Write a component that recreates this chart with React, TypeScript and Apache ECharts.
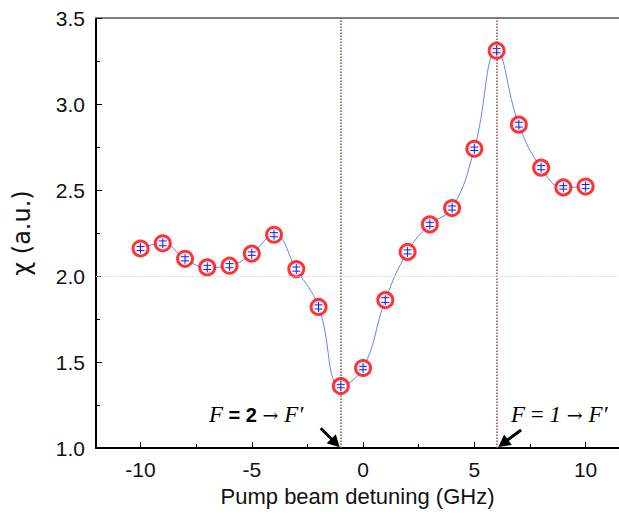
import React, { useEffect, useRef } from "react";
import * as echarts from "echarts";

const detuning = [-10, -9, -8, -7, -6, -5, -4, -3, -2, -1, 0, 1, 2, 3, 4, 5, 6, 7, 8, 9, 10];
const chi = [2.16, 2.19, 2.1, 2.05, 2.06, 2.13, 2.24, 2.04, 1.82, 1.36, 1.465, 1.86, 2.14, 2.3, 2.395, 2.74, 3.31, 2.88, 2.63, 2.515, 2.52];
const chiError = [0.012, 0.014, 0.012, 0.012, 0.012, 0.01, 0.012, 0.012, 0.012, 0.01, 0.01, 0.014, 0.012, 0.012, 0.012, 0.01, 0.012, 0.014, 0.012, 0.01, 0.012];
const xMajorTicks = [-10, -5, 0, 5, 10];
const xMinorTicks = [-7.5, -2.5, 2.5, 7.5];
const transitions = [-1, 6];
const referenceLevel = 2.0;
const arrowStartX = [-1.9, 7.1];
const arrowStartY = [1.115, 1.105];
const arrowEndX = [-1.05, 6.08];
const arrowEndY = [1.004, 1.006];

const X_MIN = -12;
const X_MAX = 11.5;

export default function App() {
  const ref = useRef<HTMLDivElement>(null);
  useEffect(() => {
    if (!ref.current) return;
    const chart = echarts.init(ref.current, undefined, { renderer: "svg" });
    const pts = detuning.map((x, i) => [x, chi[i]]);
    const errPts = detuning.map((x, i) => [x, chi[i], chiError[i]]);
    const arrows = arrowStartX.map((x, i) => [x, arrowStartY[i], arrowEndX[i], arrowEndY[i]]);
    const sans = "Liberation Sans, Arial, sans-serif";
    const serif = "Liberation Serif, Times New Roman, serif";
    chart.setOption({
      animation: false,
      backgroundColor: "#fff",
      grid: { left: 96, right: 0, top: 18, bottom: 69, containLabel: false },
      xAxis: [
        {
          type: "value",
          min: X_MIN,
          max: X_MAX,
          position: "bottom",
          axisLine: { onZero: false, lineStyle: { color: "#000", width: 2 } },
          axisTick: { inside: true, length: 6, customValues: xMajorTicks, lineStyle: { color: "#000", width: 1 } },
          axisLabel: { customValues: xMajorTicks, fontSize: 21, color: "#111", margin: 11, fontFamily: sans },
          splitLine: { show: false },
          name: "Pump beam detuning (GHz)",
          nameLocation: "middle",
          nameGap: 37,
          nameTextStyle: { fontSize: 22, color: "#111", fontFamily: sans },
        },
        {
          type: "value",
          min: X_MIN,
          max: X_MAX,
          position: "bottom",
          axisLine: { show: false, onZero: false },
          axisTick: { inside: true, length: 4, customValues: xMinorTicks, lineStyle: { color: "#000", width: 1 } },
          axisLabel: { show: false },
          splitLine: { show: false },
        },
        {
          type: "value",
          min: X_MIN,
          max: X_MAX,
          position: "top",
          axisLine: { onZero: false, lineStyle: { color: "#808080", width: 2 } },
          axisTick: { show: false },
          axisLabel: { show: false },
          splitLine: { show: false },
        },
      ],
      yAxis: {
        type: "value",
        min: 1,
        max: 3.5,
        interval: 0.5,
        axisLine: { show: true, onZero: false, lineStyle: { color: "#000", width: 2 } },
        axisTick: { inside: true, length: 6, lineStyle: { color: "#000" } },
        minorTick: { show: true, splitNumber: 2, length: 4, lineStyle: { color: "#000" } },
        axisLabel: { formatter: (v: number) => v.toFixed(1), fontSize: 21, color: "#111", margin: 11, fontFamily: sans },
        splitLine: { show: false },
        name: "χ (a.u.)",
        nameLocation: "middle",
        nameGap: 62,
        nameRotate: 90,
        nameTextStyle: { fontSize: 24, color: "#111", fontFamily: "DejaVu Sans, Liberation Sans, sans-serif" },
      },
      series: [
        {
          type: "line",
          data: pts,
          smooth: 0.45,
          symbol: "none",
          lineStyle: { color: "#6482f5", width: 1 },
          z: 2,
          markLine: {
            silent: true,
            symbol: "none",
            label: { show: false },
            data: [
              ...transitions.map((t) => ({ xAxis: t, lineStyle: { color: "#a0453f", type: "dotted", width: 1.5 } })),
              { yAxis: referenceLevel, lineStyle: { color: "#d8d8d8", type: "dotted", width: 1.2 } },
            ],
          },
        },
        {
          type: "scatter",
          data: pts,
          symbol: "circle",
          symbolSize: 15,
          itemStyle: { color: "#fff", borderColor: "#ff0000", borderWidth: 3 },
          z: 3,
        },
        {
          type: "custom",
          data: errPts,
          z: 4,
          renderItem: (params: any, api: any) => {
            const x = api.value(0);
            const y = api.value(1);
            const e = api.value(2);
            const top = api.coord([x, y + e]);
            const bot = api.coord([x, y - e]);
            const c = api.coord([x, y]);
            const w = 4;
            const style = { stroke: "#1a1aff", lineWidth: 1 };
            return {
              type: "group",
              children: [
                { type: "line", shape: { x1: c[0], y1: c[1] - 5, x2: c[0], y2: c[1] + 5 }, style },
                { type: "line", shape: { x1: top[0] - w, y1: top[1], x2: top[0] + w, y2: top[1] }, style },
                { type: "line", shape: { x1: bot[0] - w, y1: bot[1], x2: bot[0] + w, y2: bot[1] }, style },
              ],
            };
          },
        },
        {
          type: "custom",
          data: arrows,
          z: 6,
          clip: false,
          renderItem: (params: any, api: any) => {
            const p0 = api.coord([api.value(0), api.value(1)]);
            const p1 = api.coord([api.value(2), api.value(3)]);
            const dx = p1[0] - p0[0];
            const dy = p1[1] - p0[1];
            const len = Math.sqrt(dx * dx + dy * dy);
            const ux = dx / len;
            const uy = dy / len;
            const head = 12;
            const half = 6.5;
            const bx = p1[0] - ux * head;
            const by = p1[1] - uy * head;
            return {
              type: "group",
              children: [
                {
                  type: "line",
                  shape: { x1: p0[0], y1: p0[1], x2: bx + ux * 2, y2: by + uy * 2 },
                  style: { stroke: "#000", lineWidth: 3 },
                },
                {
                  type: "polygon",
                  shape: {
                    points: [
                      [p1[0], p1[1]],
                      [bx - uy * half, by + ux * half],
                      [bx + uy * half, by - ux * half],
                    ],
                  },
                  style: { fill: "#000" },
                },
              ],
            };
          },
        },
      ],
      graphic: [
        {
          type: "text",
          left: 209,
          top: 403,
          style: {
            text: "{i|F}{b| = 2 }{a|→}{i| F′}",
            rich: {
              i: { fontFamily: serif, fontStyle: "italic", fontSize: 23, fill: "#000" },
              b: { fontFamily: sans, fontWeight: "bold", fontSize: 20, fill: "#000" },
              a: { fontFamily: "DejaVu Serif, serif", fontSize: 19, fill: "#000" },
            },
          },
        },
        {
          type: "text",
          left: 511,
          top: 403,
          style: {
            text: "{i|F}{n| = }{i|1 }{a|→}{i| F′}",
            rich: {
              i: { fontFamily: serif, fontStyle: "italic", fontSize: 23, fill: "#000" },
              n: { fontFamily: serif, fontSize: 23, fill: "#000" },
              a: { fontFamily: "DejaVu Serif, serif", fontSize: 19, fill: "#000" },
            },
          },
        },
      ],
    });
    return () => chart.dispose();
  }, []);
  return <div ref={ref} style={{ position: "absolute", left: 0, top: 0, width: 619, height: 517 }} />;
}
